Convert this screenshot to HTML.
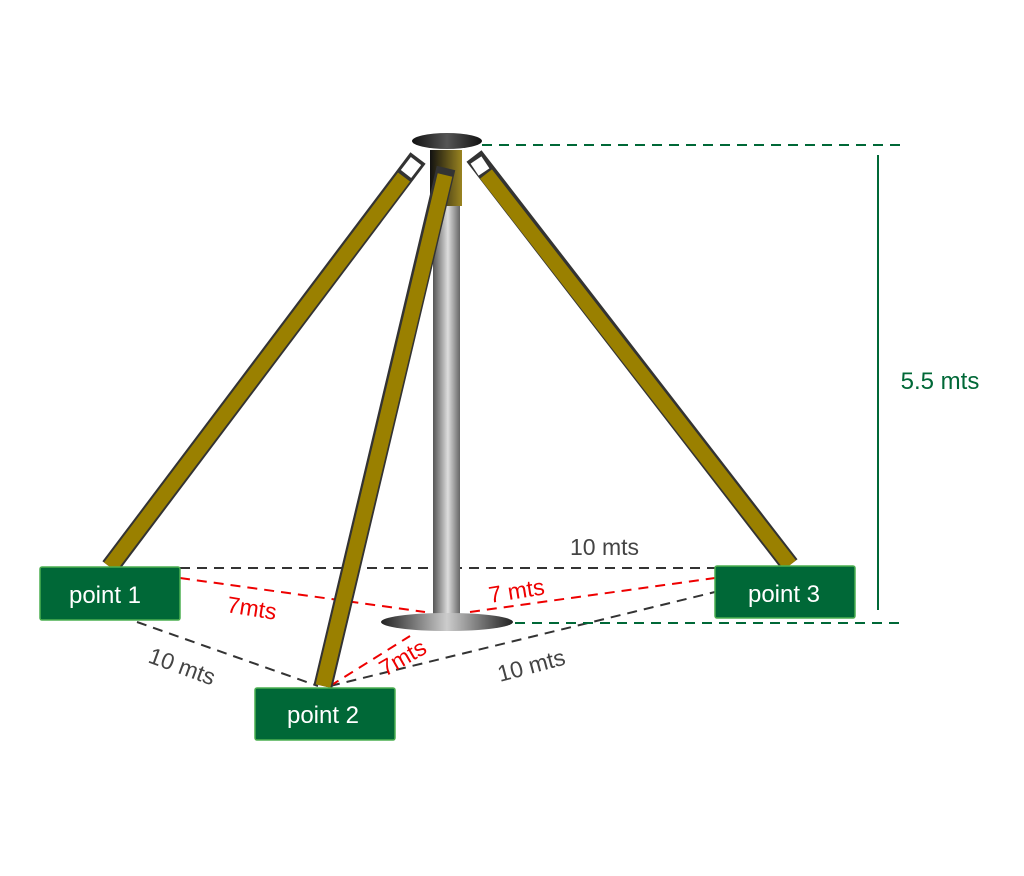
<!DOCTYPE html>
<html><head><style>body{margin:0;background:#fff}svg{display:block}</style></head><body>
<svg width="1024" height="876" viewBox="0 0 1024 876" xmlns="http://www.w3.org/2000/svg" font-family="Liberation Sans, sans-serif">
<defs>
<linearGradient id="pole" x1="0" x2="1"><stop offset="0" stop-color="#555"/><stop offset="0.55" stop-color="#ddd"/><stop offset="1" stop-color="#666"/></linearGradient>
<linearGradient id="base" x1="0" x2="1"><stop offset="0" stop-color="#222"/><stop offset="0.5" stop-color="#ccc"/><stop offset="1" stop-color="#222"/></linearGradient>
<linearGradient id="top" x1="0" x2="1"><stop offset="0" stop-color="#111"/><stop offset="0.5" stop-color="#555"/><stop offset="1" stop-color="#111"/></linearGradient>
<linearGradient id="collar" x1="0" x2="1"><stop offset="0" stop-color="#111"/><stop offset="1" stop-color="#9a8420"/></linearGradient>
</defs>
<g stroke="#333" stroke-width="2" stroke-dasharray="10,7" fill="none">
<line x1="180" y1="568" x2="715" y2="568"/>
<line x1="137" y1="622" x2="318" y2="686"/>
<line x1="330" y1="686" x2="715" y2="592"/>
</g>
<g stroke="#e00" stroke-width="2" stroke-dasharray="10,7" fill="none">
<line x1="180" y1="578" x2="425" y2="612"/>
<line x1="470" y1="612" x2="715" y2="578"/>
<line x1="330" y1="686" x2="410" y2="636"/>
</g>
<g stroke="#006837" stroke-width="2" stroke-dasharray="10,7">
<line x1="482" y1="145" x2="902" y2="145"/>
<line x1="515" y1="623" x2="902" y2="623"/>
</g>
<line x1="878" y1="155" x2="878" y2="610" stroke="#006837" stroke-width="2"/>
<rect x="433" y="180" width="27" height="440" fill="url(#pole)"/>
<ellipse cx="447" cy="622" rx="66" ry="9" fill="url(#base)"/>
<rect x="430" y="150" width="32" height="56" fill="url(#collar)"/>
<g stroke="#333" stroke-width="19" stroke-linecap="butt">
<line x1="110" y1="567" x2="418" y2="158"/>
<line x1="790" y1="565" x2="474" y2="156"/>
<line x1="323" y1="686" x2="446" y2="168"/>
</g>
<g stroke="#9a8000" stroke-width="15">
<line x1="110" y1="567" x2="404" y2="177"/>
<line x1="790" y1="565" x2="486" y2="174"/>
<line x1="323" y1="686" x2="445" y2="175"/>
</g>
<g stroke="#fff" stroke-width="13">
<line x1="406" y1="174" x2="416" y2="161"/>
<line x1="484" y1="172" x2="476" y2="160"/>
</g>
<ellipse cx="447" cy="141" rx="35" ry="8" fill="url(#top)"/>
<g fill="#006837" stroke="#4caf50" stroke-width="1.5">
<rect x="40" y="567" width="140" height="53" rx="2"/>
<rect x="255" y="688" width="140" height="52" rx="2"/>
<rect x="715" y="566" width="140" height="52" rx="2"/>
</g>
<g fill="#fff" font-size="24" text-anchor="middle">
<text x="105" y="603">point 1</text>
<text x="323" y="723">point 2</text>
<text x="784" y="602">point 3</text>
</g>
<text x="940" y="389" font-size="24" fill="#006837" text-anchor="middle">5.5 mts</text>
<g font-size="23" fill="#444">
<text x="570" y="555">10 mts</text>
<text transform="translate(147,662) rotate(20)">10 mts</text>
<text transform="translate(500,682) rotate(-15)">10 mts</text>
</g>
<g font-size="23" fill="#e00">
<text transform="translate(226,612) rotate(9)">7mts</text>
<text transform="translate(490,603) rotate(-9)">7 mts</text>
<text transform="translate(385,677) rotate(-30)">7mts</text>
</g>
</svg>
</body></html>
